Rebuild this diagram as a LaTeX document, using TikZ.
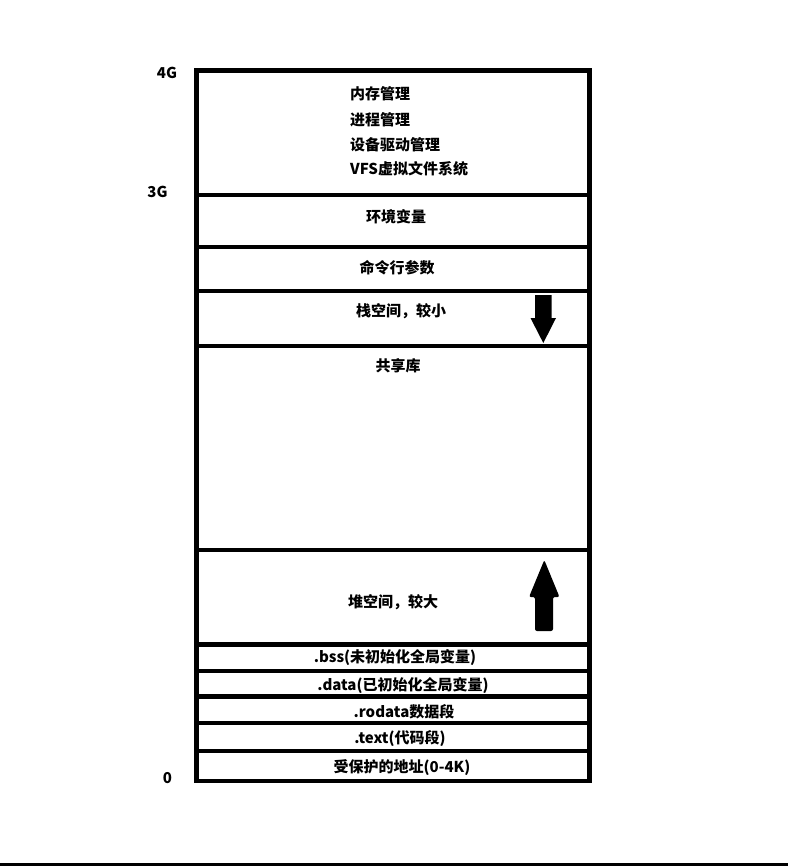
\documentclass[tikz,border=0pt]{standalone}
\usepackage{fontspec}
\setmainfont{Noto Sans CJK SC}

\tikzset{
    seg/.style = {line width = 4.6pt},
    lbl/.style = {font = \fontsize{15}{17}\selectfont\bfseries, inner sep = 0pt},
}

\begin{document}
\begin{tikzpicture}[x = 1pt, y = -1pt]
    \useasboundingbox (0, 0) rectangle (788, 866);

    \draw[seg] (196.5, 70.5) rectangle (589.5, 781);
    \draw[seg] (196.5, 195) -- (589.5, 195);
    \draw[seg] (196.5, 247) -- (589.5, 247);
    \draw[seg] (196.5, 291) -- (589.5, 291);
    \draw[seg] (196.5, 346) -- (589.5, 346);
    \draw[seg] (196.5, 550) -- (589.5, 550);
    \draw[seg] (196.5, 644.5) -- (589.5, 644.5);
    \draw[seg] (196.5, 671) -- (589.5, 671);
    \draw[seg] (196.5, 696.5) -- (589.5, 696.5);
    \draw[seg] (196.5, 723) -- (589.5, 723);
    \draw[seg] (196.5, 751) -- (589.5, 751);

    \draw[line width = 3pt] (0, 864.5) -- (788, 864.5);

    \node[lbl] (g4) at (167, 73){4G};
    \node[lbl] (g3) at (157.5, 192){3G};
    \node[lbl] (g0) at (167.5, 778){0};

    \node[lbl, anchor = west] (mem) at (350, 94){内存管理};
    \node[lbl, anchor = west] (proc) at (350, 120){进程管理};
    \node[lbl, anchor = west] (drv) at (350, 145){设备驱动管理};
    \node[lbl, anchor = west] (vfs) at (350, 169){VFS虚拟文件系统};

    \node[lbl] (env) at (396, 217){环境变量};
    \node[lbl] (args) at (397, 268){命令行参数};
    \node[lbl] (stack) at (401, 311){栈空间，较小};
    \node[lbl] (shlib) at (398, 366){共享库};
    \node[lbl] (heap) at (393, 602){堆空间，较大};
    \node[lbl] (bss) at (395, 658){.bss(未初始化全局变量)};
    \node[lbl] (data) at (403, 685.5){.data(已初始化全局变量)};
    \node[lbl] (rodata) at (404, 712){.rodata数据段};
    \node[lbl] (text) at (400, 738){.text(代码段)};
    \node[lbl] (prot) at (402, 767.5){受保护的地址(0-4K)};

    \fill (535, 295) -- (551.5, 295) -- (551.5, 318) -- (556, 318) -- (543.3, 343) -- (530.5, 318) -- (535, 318) -- cycle;
    \fill[rounded corners = 2pt] (535, 631) -- (553, 631) -- (553, 597) -- (559.5, 597) -- (544.3, 560) -- (529, 597) -- (535, 597) -- cycle;
\end{tikzpicture}
\end{document}
